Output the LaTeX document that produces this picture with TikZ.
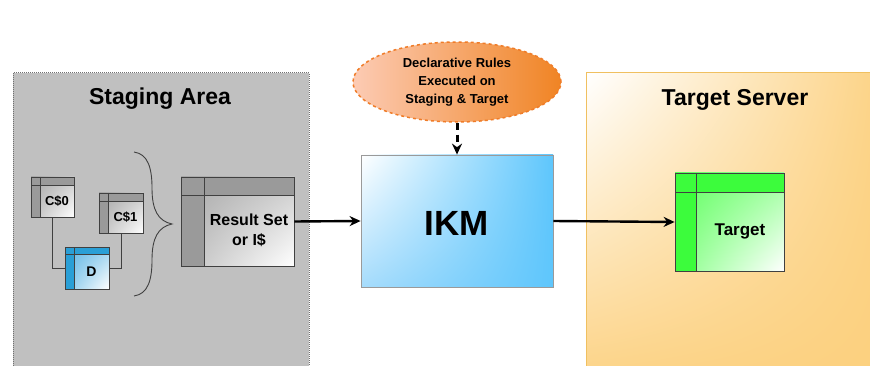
\documentclass[tikz,border=0pt]{standalone}
\usepackage{fontspec}
\setmainfont{Liberation Sans}
\usetikzlibrary{shapes.geometric,arrows.meta,calc,fit,shadings}
\definecolor{stagebg}{HTML}{C0C0C0}
\definecolor{stageedge}{HTML}{707070}
\definecolor{grayhdr}{HTML}{9A9A9A}
\definecolor{graybody}{HTML}{A6A6A6}
\definecolor{bluehdr}{HTML}{2A9FD6}
\definecolor{bluebody}{HTML}{5AB4E4}
\definecolor{greenhdr}{HTML}{3CFC3C}
\definecolor{greenbody}{HTML}{5CFF5C}
\definecolor{tabedge}{HTML}{404040}
\definecolor{tgtorange}{HTML}{FCD07E}
\definecolor{tgtedge}{HTML}{F0C060}
\definecolor{ikmblue}{HTML}{5EC6FC}
\definecolor{ikmmid}{HTML}{A6DCFC}
\definecolor{ikmedge}{HTML}{9A9A9A}
\definecolor{ellleft}{HTML}{FCCBB4}
\definecolor{ellright}{HTML}{F08424}
\definecolor{elledge}{HTML}{F07C28}
\def\tabfont{\fontsize{13}{15}\selectfont}
\newcommand\dbtab[9]{%
  \coordinate (#1nw) at (#2,#3);
  \coordinate (#1se) at (#4,#5);
  \shade[upper left=#8body, upper right=#8body!60!white, lower left=#8body!70!white, lower right=white] (#2,#3) rectangle (#4,#5);
  \fill[#8hdr] (#2,#3) rectangle (#4,#3+#6);
  \fill[#8hdr] (#2,#3) rectangle (#2+#7,#5);
  \draw[tabline] (#2,#3+#6) -- (#4,#3+#6);
  \draw[tabline] (#2+#7,#3) -- (#2+#7,#5);
  \node[draw=tabedge, line width=0.8pt, inner sep=0pt, fit=(#1nw)(#1se)] (#1) {};
  \node[tabtext] (#1txt) at ({(#2+#7+#4)/2},{(#3+#6+#5)/2}) {#9};
}
\begin{document}
\begin{tikzpicture}[x=1pt,y=-1pt,
  tabline/.style={draw=tabedge, line width=0.8pt},
  tabtext/.style={font=\bfseries\tabfont, align=center, inner sep=0pt},
  title/.style={font=\bfseries\fontsize{23}{27}\selectfont},
  arr/.style={line width=2.4pt, -{Stealth[length=11pt,width=10pt]}},
  dasharr/.style={line width=3pt, dash pattern=on 7pt off 5pt, -{Stealth[length=11pt,width=10pt]}}
]
\useasboundingbox (0,0) rectangle (870,366);
\fill[white] (0,0) rectangle (870,366);
\clip (0,0) rectangle (870,366);

% Staging area
\filldraw[fill=stagebg, draw=stageedge, densely dotted, line width=1pt] (13,73) rectangle (309,380);
\node[title] (stagetitle) at (160,99) {Staging Area};

% Target server
\shade[upper left=white, upper right=tgtorange, lower left=tgtorange, lower right=tgtorange] (586,73) rectangle (900,400);
\draw[tgtedge, line width=1pt] (586,380) -- (586,73) -- (880,73);
\node[title] (tgttitle) at (735,100) {Target Server};

% tables
\def\tabfont{\fontsize{13}{15}\selectfont}
\dbtab{c0}{31}{177}{74}{217}{8}{9}{gray}{C\$0}
\dbtab{c1}{99}{193}{143}{233}{8}{9}{gray}{C\$1}
\def\tabfont{\fontsize{14}{16}\selectfont}
\dbtab{d}{65}{247}{109}{289}{7}{9}{blue}{D}
\def\tabfont{\fontsize{16}{20}\selectfont}
\dbtab{rs}{181}{177}{294}{266}{18}{23}{gray}{Result Set\\or I\$}
\def\tabfont{\fontsize{17}{20}\selectfont}
\dbtab{tgt}{675}{173}{784}{271}{19}{21}{green}{Target}

\draw[tabline, line width=1pt] (c0.south) |- (d.west);
\draw[tabline, line width=1pt] (c1.south) |- (d.east);

% brace
\draw[tabedge, line width=0.9pt] (134,152) .. controls (148,154) and (152,168) .. (152,188)
  .. controls (152,210) and (158,221) .. (172,224)
  .. controls (158,227) and (152,238) .. (152,260)
  .. controls (152,280) and (148,294) .. (134,296);

% IKM
\node[draw=ikmedge, line width=0.8pt, minimum width=192pt, minimum height=132pt, inner sep=0pt,
  upper left=white, upper right=ikmblue, lower left=ikmmid, lower right=ikmblue] (ikm) at (457,221) {};
\node[font=\bfseries\fontsize{35}{40}\selectfont] (ikmtxt) at (457,223) {IKM};

% ellipse
\node[ellipse, draw=elledge, dashed, line width=1.5pt, minimum width=208pt, minimum height=80pt,
  left color=ellleft, right color=ellright, align=center, inner sep=0pt,
  font=\bfseries\fontsize{13}{18}\selectfont] (rules) at (457,82)
  {Declarative Rules\\Executed on\\Staging \& Target};

% arrows
\draw[arr] (rs.east) -- (ikm.west);
\draw[arr] (ikm.east) -- (tgt.west);
\draw[dasharr] (rules.south) -- (ikm.north);
\end{tikzpicture}
\end{document}
